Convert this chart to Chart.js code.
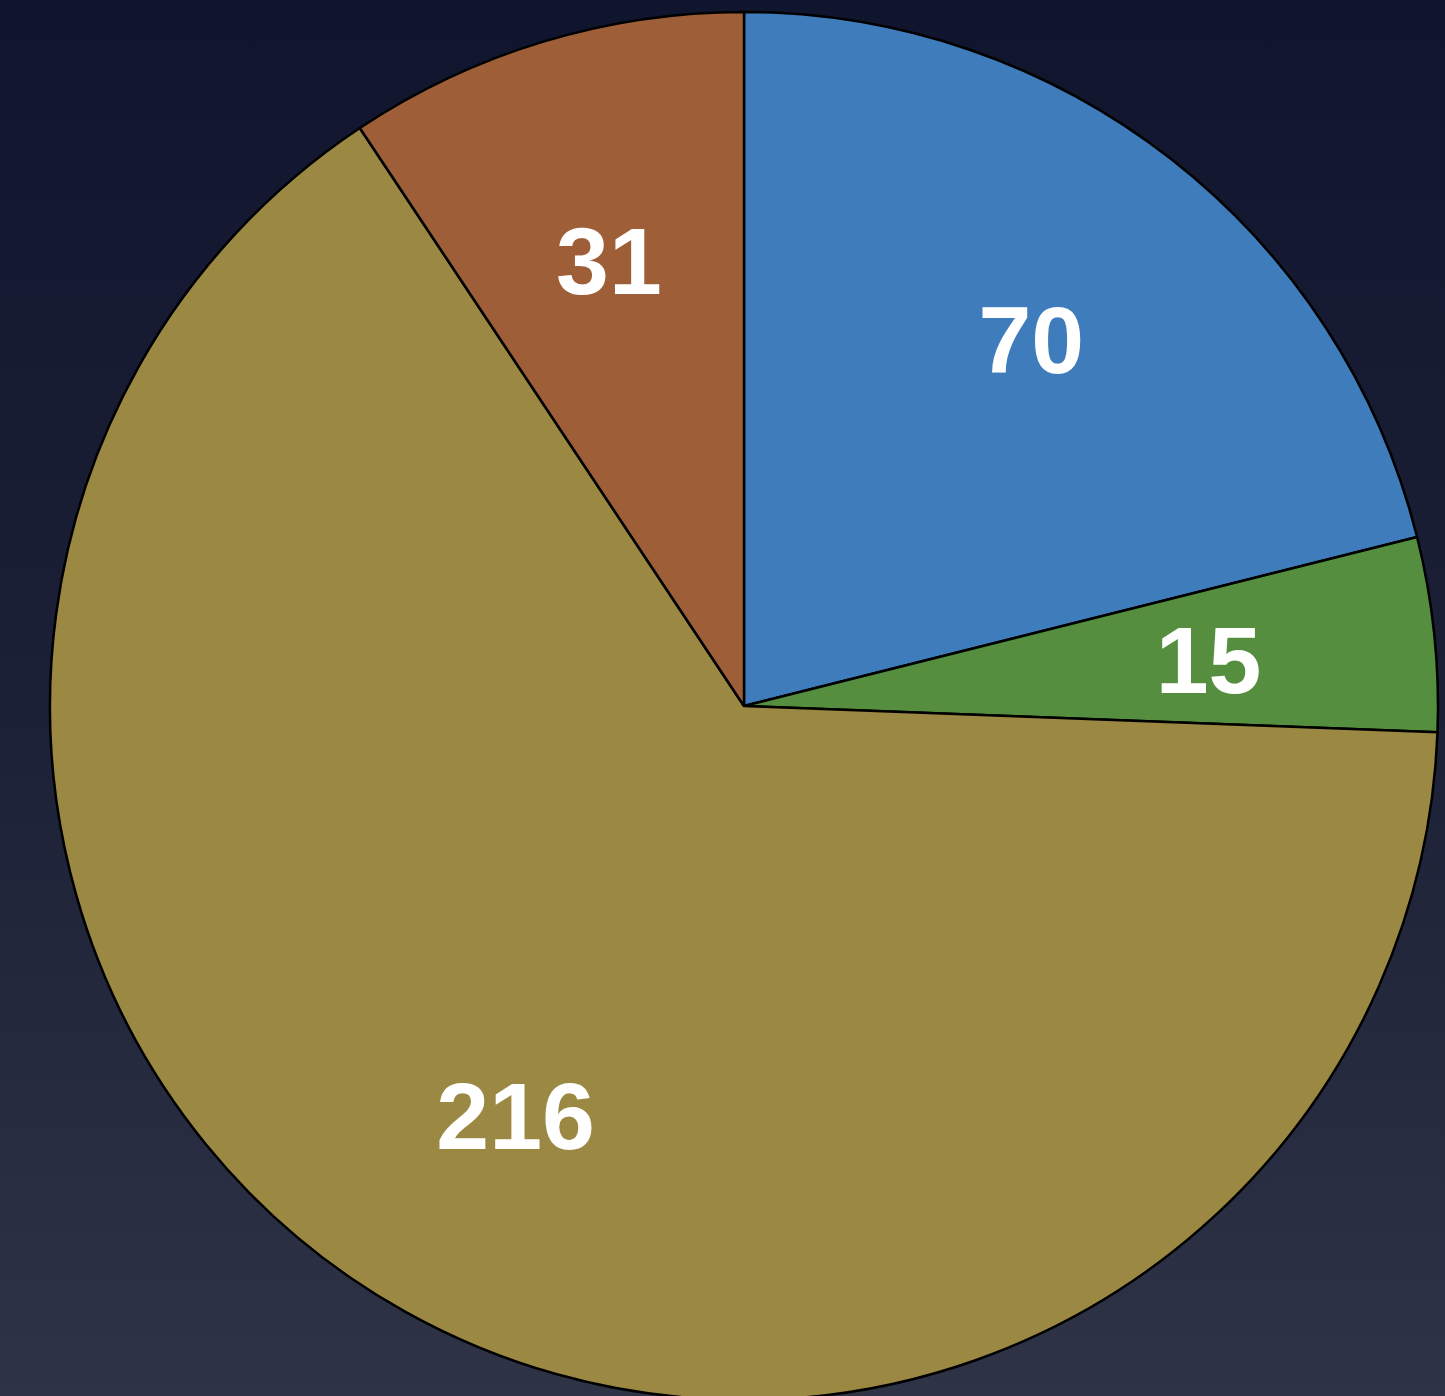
<!DOCTYPE html>
<html>
<head>
<meta charset="utf-8">
<script src="https://cdn.jsdelivr.net/npm/chart.js@4/dist/chart.umd.min.js"></script>
<style>
  html, body { margin: 0; padding: 0; width: 1445px; height: 1396px; overflow: hidden;
    background: linear-gradient(to bottom, #10152e 0%, #1c2036 50%, #2f3346 100%); }
  #wrap { position: absolute; left: 0; top: 0; width: 1445px; height: 1396px; }
</style>
</head>
<body>
<div id="wrap"><canvas id="c"></canvas></div>
<script>
const categories = ["A", "B", "C", "D"];
const values = [70, 15, 216, 31];
const colors = ["#3f7cbb", "#558e3e", "#9a8843", "#9e5e37"];

const labelPlugin = {
  id: 'sliceLabels',
  afterDatasetsDraw(chart) {
    const ctx = chart.ctx;
    const meta = chart.getDatasetMeta(0);
    ctx.save();
    ctx.fillStyle = '#ffffff';
    ctx.font = 'bold 95px "Liberation Sans", Arial, sans-serif';
    ctx.textAlign = 'center';
    ctx.textBaseline = 'middle';
    meta.data.forEach((arc, i) => {
      const p = arc.getProps(['x', 'y', 'startAngle', 'endAngle', 'outerRadius'], true);
      const mid = (p.startAngle + p.endAngle) / 2;
      const r = p.outerRadius * 0.673;
      ctx.fillText(String(values[i]), p.x + r * Math.cos(mid), p.y + r * Math.sin(mid) + 9);
    });
    ctx.restore();
  }
};

new Chart(document.getElementById('c'), {
  type: 'pie',
  data: {
    labels: categories,
    datasets: [{
      data: values,
      backgroundColor: colors,
      borderColor: '#000000',
      borderWidth: 2.5
    }]
  },
  options: {
    responsive: true,
    maintainAspectRatio: false,
    animation: false,
    radius: 694,
    layout: { padding: { left: 43, top: 16, right: 0, bottom: 0 } },
    plugins: { legend: { display: false }, tooltip: { enabled: false } }
  },
  plugins: [labelPlugin]
});
</script>
</body>
</html>
